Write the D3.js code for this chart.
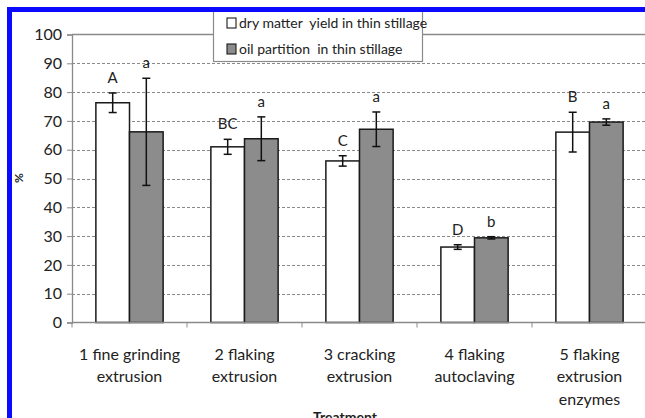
<!DOCTYPE html>
<html>
<head>
<meta charset="utf-8">
<script src="https://cdn.jsdelivr.net/npm/d3@7"></script>
<style>
  body { margin: 0; background: #fff; }
  svg text { font-family: Lato, "Open Sans", sans-serif; fill: #222; }
</style>
</head>
<body>
<svg id="myGraph" width="645" height="418"></svg>
<script>
var categories = [
  ["1 fine grinding", "extrusion"],
  ["2 flaking", "extrusion"],
  ["3 cracking", "extrusion"],
  ["4 flaking", "autoclaving"],
  ["5 flaking", "extrusion", "enzymes"]
];
var seriesNames = ["dry matter  yield in thin stillage", "oil partition  in thin stillage"];
var dryMatter = [76.3, 61.0, 56.1, 26.2, 66.1];
var dryMatterErr = [3.4, 2.6, 1.8, 0.8, 6.9];
var dryLetters = ["A", "BC", "C", "D", "B"];
var oilPart = [66.2, 63.8, 67.1, 29.4, 69.6];
var oilPartErr = [18.6, 7.6, 6.0, 0.4, 1.1];
var oilLetters = ["a", "a", "a", "b", "a"];
var yTicks = [0, 10, 20, 30, 40, 50, 60, 70, 80, 90, 100];

var svg = d3.select("#myGraph");
var plotLeft = 72, plotRight = 647, plotTop = 34.5, plotBottom = 322.5;
var fills = ["#ffffff", "#8c8c8c"];

var yScale = d3.scaleLinear().domain([0, 100]).range([plotBottom, plotTop]);
var x0 = d3.scaleBand().domain(d3.range(categories.length)).range([plotLeft, plotRight]);
var x1 = d3.scaleBand().domain([0, 1]).range([0, x0.bandwidth()]).paddingOuter(0.71);

// grid
svg.append("g")
  .selectAll("line")
  .data(yTicks.filter(d => d > 0 && d < 100))
  .enter()
  .append("line")
  .attr("x1", plotLeft).attr("x2", plotRight)
  .attr("y1", d => Math.round(yScale(d)) + 0.5)
  .attr("y2", d => Math.round(yScale(d)) + 0.5)
  .attr("stroke", "#8a8a8a")
  .attr("stroke-width", 1)
  .attr("stroke-dasharray", "3,2");

svg.append("line")
  .attr("x1", plotLeft).attr("x2", plotRight)
  .attr("y1", yScale(100)).attr("y2", yScale(100))
  .attr("stroke", "#8a8a8a").attr("stroke-width", 1.3);

// y axis
var yAxis = d3.axisLeft(yScale).tickValues(yTicks).tickSize(5).tickPadding(5);
var gy = svg.append("g").attr("transform", "translate(" + plotLeft + ",0)").call(yAxis);
gy.select(".domain").attr("stroke", "#8a8a8a").attr("stroke-width", 1.3);
gy.selectAll(".tick line").attr("stroke", "#8a8a8a");
gy.selectAll("text").style("font-size", "16px").style("font-family", "Lato, sans-serif").attr("fill", "#222");

// bars
var rows = categories.map((c, i) => ({
  i: i,
  vals: [
    { s: 0, v: dryMatter[i], e: dryMatterErr[i], l: dryLetters[i] },
    { s: 1, v: oilPart[i], e: oilPartErr[i], l: oilLetters[i] }
  ]
}));

var groups = svg.append("g")
  .selectAll("g")
  .data(rows)
  .enter()
  .append("g")
  .attr("transform", d => "translate(" + x0(d.i) + ",0)");

groups.selectAll("rect")
  .data(d => d.vals)
  .enter()
  .append("rect")
  .attr("x", d => x1(d.s))
  .attr("y", d => yScale(d.v))
  .attr("width", x1.bandwidth())
  .attr("height", d => plotBottom - yScale(d.v))
  .attr("fill", d => fills[d.s])
  .attr("stroke", "#1a1a1a")
  .attr("stroke-width", 1.5);

// error bars
var err = groups.selectAll("g.err")
  .data(d => d.vals)
  .enter()
  .append("g")
  .attr("class", "err")
  .attr("transform", d => "translate(" + (x1(d.s) + x1.bandwidth() / 2) + ",0)");

err.append("line")
  .attr("y1", d => yScale(d.v + d.e)).attr("y2", d => yScale(d.v - d.e))
  .attr("stroke", "#111").attr("stroke-width", 1.5);
err.selectAll("line.cap")
  .data(d => [d.v + d.e, d.v - d.e])
  .enter()
  .append("line")
  .attr("class", "cap")
  .attr("x1", -4).attr("x2", 4)
  .attr("y1", d => yScale(d)).attr("y2", d => yScale(d))
  .attr("stroke", "#111").attr("stroke-width", 1.5);

err.append("text")
  .attr("text-anchor", "middle")
  .attr("y", d => yScale(d.v + d.e) - 10)
  .style("font-size", "15px")
  .text(d => d.l);

// x axis
var gx = svg.append("g").attr("transform", "translate(0," + plotBottom + ")");
gx.append("line").attr("x1", plotLeft).attr("x2", plotRight)
  .attr("stroke", "#8a8a8a").attr("stroke-width", 1.3);
gx.selectAll("line.tick")
  .data(d3.range(categories.length + 1))
  .enter()
  .append("line")
  .attr("class", "tick")
  .attr("x1", d => plotLeft + d * x0.step()).attr("x2", d => plotLeft + d * x0.step())
  .attr("y1", 0).attr("y2", 5)
  .attr("stroke", "#8a8a8a");

var labels = gx.selectAll("text.cat")
  .data(categories)
  .enter()
  .append("text")
  .attr("class", "cat")
  .attr("text-anchor", "middle")
  .attr("transform", (d, i) => "translate(" + (x0(i) + x0.bandwidth() / 2) + ",37)")
  .style("font-size", "16px");
labels.selectAll("tspan")
  .data(d => d)
  .enter()
  .append("tspan")
  .attr("x", 0)
  .attr("dy", (d, i) => i === 0 ? 0 : 22.5)
  .text(d => d);

svg.append("text")
  .attr("x", 345).attr("y", 422)
  .attr("text-anchor", "middle")
  .style("font-size", "14px").style("font-weight", "bold")
  .text("Treatment");

svg.append("text")
  .attr("transform", "translate(23,178) rotate(-90)")
  .attr("text-anchor", "middle")
  .style("font-size", "12px").style("font-weight", "bold")
  .text("%");

// legend
var lg = svg.append("g").attr("transform", "translate(213,0)");
lg.append("rect")
  .attr("x", 0.5).attr("y", 9).attr("width", 209).attr("height", 52.5)
  .attr("fill", "#fff").attr("stroke", "#8a8a8a").attr("stroke-width", 1.2);
var items = lg.selectAll("g.item")
  .data(seriesNames)
  .enter()
  .append("g")
  .attr("class", "item")
  .attr("transform", (d, i) => "translate(14," + (24 + i * 26) + ")");
items.append("rect")
  .attr("x", 0).attr("y", -6).attr("width", 9).attr("height", 10)
  .attr("fill", (d, i) => fills[i])
  .attr("stroke", "#1a1a1a").attr("stroke-width", 1.1);
items.append("text")
  .attr("x", 12).attr("y", 4)
  .style("font-size", "14px")
  .style("white-space", "pre")
  .text(d => d);

// blue frame
svg.append("rect")
  .attr("x", 9.5).attr("y", 9.5).attr("width", 640).attr("height", 420)
  .attr("fill", "none").attr("stroke", "#0a0aff").attr("stroke-width", 5);
</script>
</body>
</html>
